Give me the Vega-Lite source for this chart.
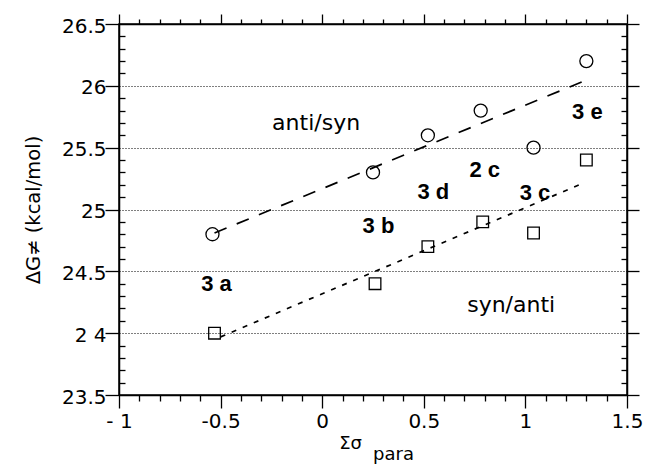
{
  "$schema": "https://vega.github.io/schema/vega-lite/v6.json",
  "width": 508,
  "height": 371,
  "autosize": {"type": "none"},
  "padding": {"left": 119, "top": 24, "right": 18, "bottom": 72},
  "background": "white",
  "config": {"view": {"stroke": "black", "strokeWidth": 1.5}, "font": "DejaVu Sans"},
  "datasets": {
    "points": [
      {"series": "anti/syn", "x": -0.54, "y": 24.8},
      {"series": "anti/syn", "x": 0.25, "y": 25.3},
      {"series": "anti/syn", "x": 0.52, "y": 25.6},
      {"series": "anti/syn", "x": 0.78, "y": 25.8},
      {"series": "anti/syn", "x": 1.04, "y": 25.5},
      {"series": "anti/syn", "x": 1.3, "y": 26.2},
      {"series": "syn/anti", "x": -0.53, "y": 24.0},
      {"series": "syn/anti", "x": 0.26, "y": 24.4},
      {"series": "syn/anti", "x": 0.52, "y": 24.7},
      {"series": "syn/anti", "x": 0.79, "y": 24.9},
      {"series": "syn/anti", "x": 1.04, "y": 24.81},
      {"series": "syn/anti", "x": 1.3, "y": 25.4}
    ],
    "fits": [
      {"series": "anti/syn", "x": -0.53, "y": 24.81},
      {"series": "anti/syn", "x": 1.29, "y": 26.04},
      {"series": "syn/anti", "x": -0.5, "y": 23.97},
      {"series": "syn/anti", "x": 1.28, "y": 25.21}
    ],
    "notes": [
      {"label": "anti/syn", "x": -0.03, "y": 25.7},
      {"label": "syn/anti", "x": 0.93, "y": 24.23}
    ],
    "compounds": [
      {"label": "3 a", "x": -0.52, "y": 24.4},
      {"label": "3 b", "x": 0.277, "y": 24.87},
      {"label": "3 d", "x": 0.547, "y": 25.14},
      {"label": "2 c", "x": 0.8, "y": 25.32},
      {"label": "3 c", "x": 1.047, "y": 25.13},
      {"label": "3 e", "x": 1.305, "y": 25.79}
    ]
  },
  "layer": [
    {
      "data": {"name": "points"},
      "transform": [{"filter": "datum.series == 'anti/syn'"}],
      "mark": {"type": "point", "shape": "circle", "filled": false, "stroke": "black", "strokeWidth": 1.3, "size": 170, "opacity": 1},
      "encoding": {
        "x": {
          "field": "x", "type": "quantitative",
          "scale": {"domain": [-1, 1.5], "nice": false, "zero": false},
          "axis": {
            "orient": "bottom",
            "values": [-1, -0.9, -0.8, -0.7, -0.6, -0.5, -0.4, -0.3, -0.2, -0.1, 0, 0.1, 0.2, 0.3, 0.4, 0.5, 0.6, 0.7, 0.8, 0.9, 1, 1.1, 1.2, 1.3, 1.4, 1.5],
            "labelExpr": "datum.value == -1 ? '- 1' : datum.value == -0.5 ? '-0.5' : datum.value == 0 ? '0' : datum.value == 0.5 ? '0.5' : datum.value == 1 ? '1' : datum.value == 1.5 ? '1.5' : ''",
            "domain": true, "domainColor": "black", "domainWidth": 1.5,
            "ticks": true, "tickColor": "black", "tickWidth": 1.3,
            "tickSize": {"condition": {"test": "abs(datum.value*2 - round(datum.value*2)) < 0.001", "value": 13}, "value": 6},
            "labelFont": "DejaVu Sans", "labelFontSize": 20, "labelColor": "black",
            "labelPadding": 3, "labelFlush": false, "labelOverlap": false, "labelBound": false,
            "grid": false,
            "title": ["Σσ\u00a0\u00a0\u00a0\u00a0\u00a0\u00a0\u00a0\u00a0\u200b", "\u200b\u00a0\u00a0\u00a0\u00a0\u00a0\u00a0\u00a0para"],
            "titleFont": "DejaVu Sans", "titleFontSize": 18, "titleColor": "black", "titleFontWeight": "normal",
            "titlePadding": 3, "titleLineHeight": 11
          }
        },
        "y": {
          "field": "y", "type": "quantitative",
          "scale": {"domain": [23.5, 26.5], "nice": false, "zero": false},
          "axis": {
            "orient": "left",
            "values": [23.5, 23.6, 23.7, 23.8, 23.9, 24, 24.1, 24.2, 24.3, 24.4, 24.5, 24.6, 24.7, 24.8, 24.9, 25, 25.1, 25.2, 25.3, 25.4, 25.5, 25.6, 25.7, 25.8, 25.9, 26, 26.1, 26.2, 26.3, 26.4, 26.5],
            "labelExpr": "datum.value == 24 ? '2 4' : (abs(datum.value*2 - round(datum.value*2)) < 0.001 ? toString(datum.value) : '')",
            "domain": true, "domainColor": "black", "domainWidth": 1.5,
            "ticks": true, "tickColor": "black", "tickWidth": 1.3,
            "tickSize": {"condition": {"test": "abs(datum.value*2 - round(datum.value*2)) < 0.001", "value": 14}, "value": -6},
            "labelFont": "DejaVu Sans", "labelFontSize": 20, "labelColor": "black",
            "labelPadding": -1, "labelOffset": 2, "labelFlush": false, "labelOverlap": false, "labelBound": false,
            "grid": true, "gridColor": "black", "gridWidth": 1.1, "gridDash": [1, 2],
            "gridOpacity": {"condition": {"test": "datum.value > 23.9 && datum.value < 26.1 && abs(datum.value*2 - round(datum.value*2)) < 0.001", "value": 1}, "value": 0},
            "title": "ΔG≠ (kcal/mol)",
            "titleFont": "DejaVu Sans", "titleFontSize": 19.5, "titleColor": "black", "titleFontWeight": "normal",
            "titlePadding": 18
          }
        }
      }
    },
    {
      "data": {"name": "points"},
      "transform": [{"filter": "datum.series == 'syn/anti'"}],
      "mark": {"type": "point", "shape": "square", "filled": false, "stroke": "black", "strokeWidth": 1.3, "size": 135, "opacity": 1},
      "encoding": {
        "x": {
          "field": "x", "type": "quantitative",
          "scale": {"domain": [-1, 1.5], "nice": false, "zero": false},
          "axis": {
            "orient": "top",
            "values": [-1, -0.9, -0.8, -0.7, -0.6, -0.5, -0.4, -0.3, -0.2, -0.1, 0, 0.1, 0.2, 0.3, 0.4, 0.5, 0.6, 0.7, 0.8, 0.9, 1, 1.1, 1.2, 1.3, 1.4, 1.5],
            "labels": false, "title": null, "grid": false,
            "domain": true, "domainColor": "black", "domainWidth": 1.5,
            "ticks": true, "tickColor": "black", "tickWidth": 1.3,
            "tickSize": {"condition": {"test": "abs(datum.value*2 - round(datum.value*2)) < 0.001", "value": 10}, "value": 5}
          }
        },
        "y": {
          "field": "y", "type": "quantitative",
          "scale": {"domain": [23.5, 26.5], "nice": false, "zero": false},
          "axis": {
            "orient": "right",
            "values": [23.5, 23.6, 23.7, 23.8, 23.9, 24, 24.1, 24.2, 24.3, 24.4, 24.5, 24.6, 24.7, 24.8, 24.9, 25, 25.1, 25.2, 25.3, 25.4, 25.5, 25.6, 25.7, 25.8, 25.9, 26, 26.1, 26.2, 26.3, 26.4, 26.5],
            "labels": false, "title": null, "grid": false,
            "domain": true, "domainColor": "black", "domainWidth": 1.5,
            "ticks": true, "tickColor": "black", "tickWidth": 1.3,
            "tickSize": {"condition": {"test": "abs(datum.value*2 - round(datum.value*2)) < 0.001", "value": 12}, "value": -6}
          }
        }
      }
    },
    {
      "data": {"name": "fits"},
      "transform": [{"filter": "datum.series == 'anti/syn'"}],
      "mark": {"type": "line", "color": "black", "strokeWidth": 1.7, "strokeDash": [13, 11]},
      "encoding": {
        "x": {"field": "x", "type": "quantitative", "axis": null},
        "y": {"field": "y", "type": "quantitative", "axis": null}
      }
    },
    {
      "data": {"name": "fits"},
      "transform": [{"filter": "datum.series == 'syn/anti'"}],
      "mark": {"type": "line", "color": "black", "strokeWidth": 1.7, "strokeDash": [5, 7]},
      "encoding": {
        "x": {"field": "x", "type": "quantitative", "axis": null},
        "y": {"field": "y", "type": "quantitative", "axis": null}
      }
    },
    {
      "data": {"name": "notes"},
      "mark": {"type": "text", "font": "DejaVu Sans", "fontSize": 22, "color": "black", "align": "center", "baseline": "middle"},
      "encoding": {
        "x": {"field": "x", "type": "quantitative", "axis": null},
        "y": {"field": "y", "type": "quantitative", "axis": null},
        "text": {"field": "label"}
      }
    },
    {
      "data": {"name": "compounds"},
      "mark": {"type": "text", "font": "Liberation Sans", "fontWeight": "bold", "fontSize": 22, "color": "black", "align": "center", "baseline": "middle"},
      "encoding": {
        "x": {"field": "x", "type": "quantitative", "axis": null},
        "y": {"field": "y", "type": "quantitative", "axis": null},
        "text": {"field": "label"}
      }
    }
  ],
  "resolve": {"axis": {"x": "independent", "y": "independent"}}
}
